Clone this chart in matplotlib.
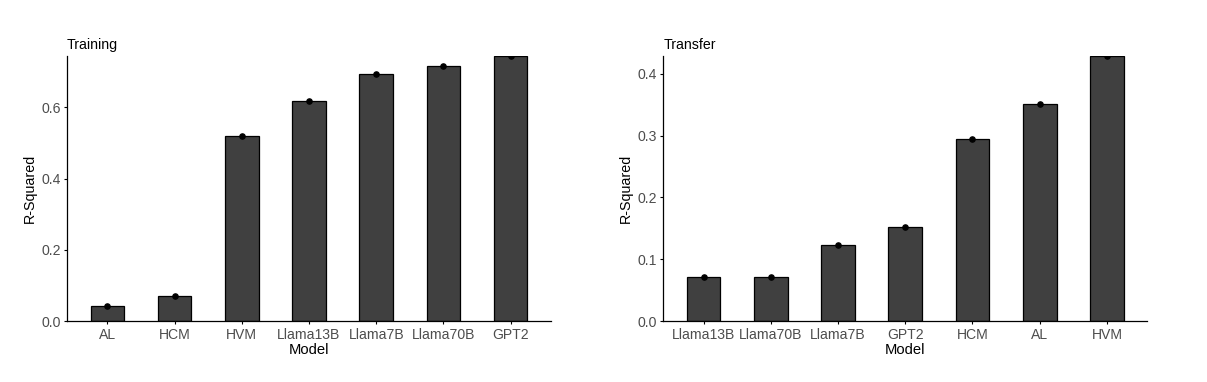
import numpy as np
import matplotlib.pyplot as plt

plt.rcParams['font.family'] = ['Liberation Sans', 'DejaVu Sans']

# training panel
train_models = ['AL', 'HCM', 'HVM', 'Llama13B', 'Llama7B', 'Llama70B', 'GPT2']
train_r2 = [0.043, 0.072, 0.519, 0.619, 0.695, 0.717, 0.745]

# transfer panel
transfer_models = ['Llama13B', 'Llama70B', 'Llama7B', 'GPT2', 'HCM', 'AL', 'HVM']
transfer_r2 = [0.071, 0.071, 0.123, 0.152, 0.295, 0.351, 0.429]

fig = plt.figure(figsize=(12.07, 3.82), dpi=100)
ax1 = fig.add_axes([0.0555, 0.159, 0.401, 0.695])
ax2 = fig.add_axes([0.5495, 0.159, 0.401, 0.695])


def draw_panel(ax, models, vals, title, yticks):
    x = np.arange(len(models))
    ax.bar(x, vals, width=0.5, color='#404040', edgecolor='black', linewidth=0.9, zorder=2)
    ax.scatter(x, vals, s=14, color='black', zorder=3)
    ax.set_xlim(-0.6, len(models) - 0.4)
    ax.set_ylim(0, max(vals))
    ax.set_xticks(x)
    ax.set_xticklabels(models, fontsize=10.1, color='#4d4d4d')
    ax.set_yticks(yticks)
    ax.set_yticklabels(['%.1f' % t for t in yticks], fontsize=10.1, color='#4d4d4d')
    ax.set_xlabel('Model', fontsize=10.6, labelpad=1)
    ax.set_ylabel('R-Squared', fontsize=10.3, labelpad=3)
    ax.set_title(title, loc='left', fontsize=10.2, pad=5)
    ax.spines['top'].set_visible(False)
    ax.spines['right'].set_visible(False)
    ax.tick_params(length=2.5, width=0.8, pad=2)
    ax.spines['left'].set_linewidth(0.9)
    ax.spines['bottom'].set_linewidth(0.9)


draw_panel(ax1, train_models, train_r2, 'Training', [0.0, 0.2, 0.4, 0.6])
draw_panel(ax2, transfer_models, transfer_r2, 'Transfer', [0.0, 0.1, 0.2, 0.3, 0.4])

fig.savefig('out.png', dpi=100)
